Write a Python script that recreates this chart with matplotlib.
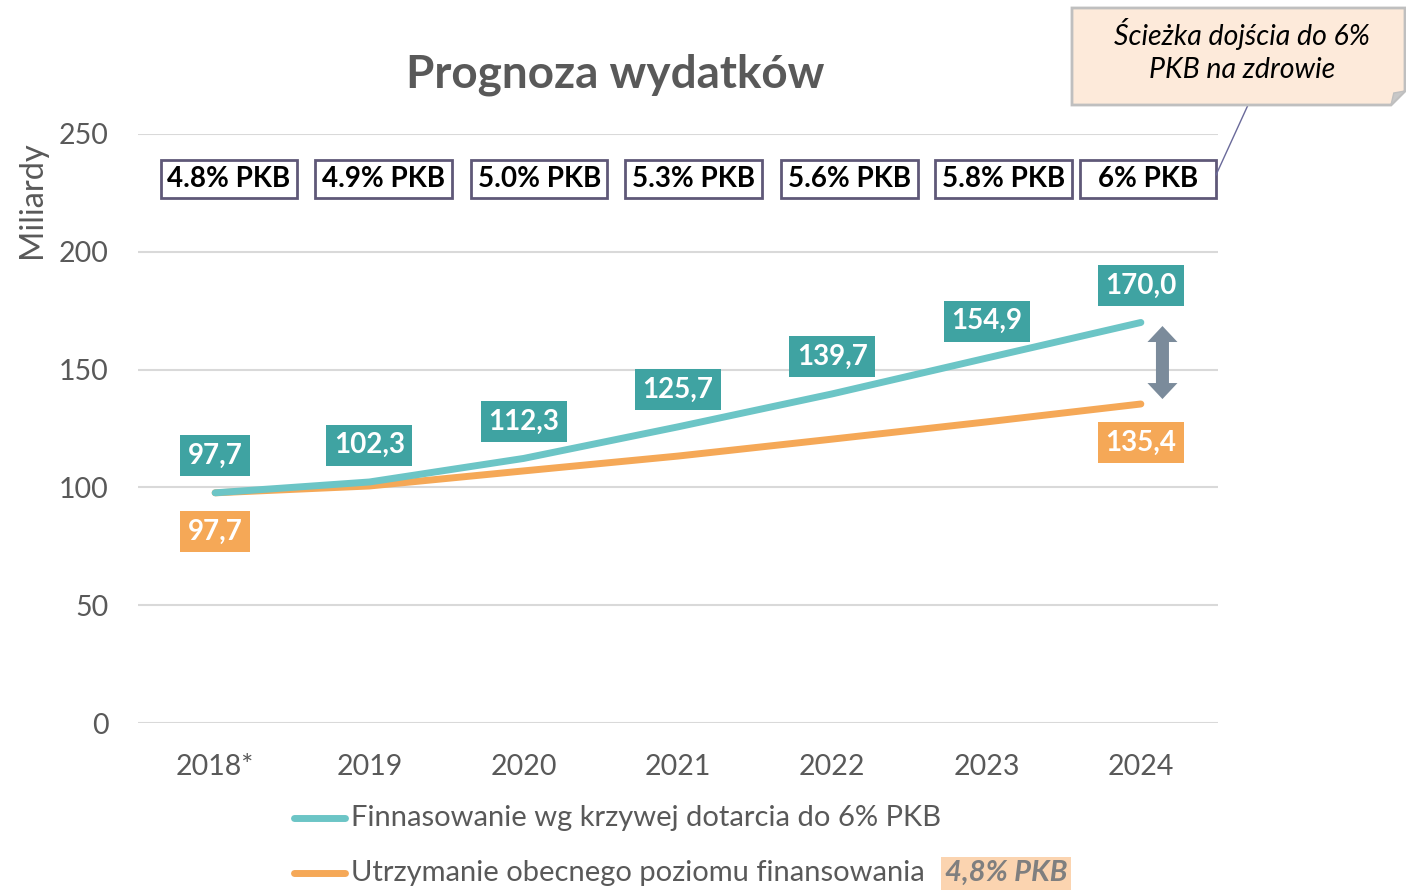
import matplotlib
matplotlib.use("Agg")
import matplotlib.pyplot as plt
from matplotlib.patches import Polygon, Rectangle
from matplotlib.lines import Line2D

years = ["2018*", "2019", "2020", "2021", "2022", "2023", "2024"]
path_6pct = [97.7, 102.3, 112.3, 125.7, 139.7, 154.9, 170.0]
current_48 = [97.7, 100.6, 107.0, 113.3, 120.5, 127.8, 135.4]
path_labels = ["97,7", "102,3", "112,3", "125,7", "139,7", "154,9", "170,0"]
current_labels = {0: "97,7", 6: "135,4"}
pkb_labels = ["4.8% PKB", "4.9% PKB", "5.0% PKB", "5.3% PKB", "5.6% PKB", "5.8% PKB", "6% PKB"]

FONT = ["Lato", "DejaVu Sans"]
plt.rcParams["font.family"] = FONT
GRAY = "#595959"
TEAL_LINE = "#6CC5C6"
TEAL_BOX = "#3FA3A2"
ORANGE = "#F5A857"

W, H = 1406, 891
fig = plt.figure(figsize=(W/100, H/100), dpi=100)
ax = fig.add_axes([138/W, 1-723/H, (1218-138)/W, (723-134)/H])
x = list(range(len(years)))
ax.set_xlim(-0.5, len(years)-0.5)
ax.set_ylim(0, 250)
ax.set_yticks([0, 50, 100, 150, 200, 250])
ax.grid(axis="y", color="#D9D9D9", lw=1.5)
ax.set_axisbelow(True)
for s in ax.spines.values():
    s.set_visible(False)
ax.tick_params(length=0, labelsize=20.5, colors=GRAY)
ax.tick_params(axis="x", pad=22)
ax.tick_params(axis="y", pad=21)
ax.set_xticks(x)
ax.set_xticklabels(years)
ax.set_ylabel("Miliardy", fontsize=23.5, color=GRAY)
ax.yaxis.set_label_coords(-0.084, 0.888)

ax.plot(x, current_48, color=ORANGE, lw=5, solid_capstyle="round", zorder=3)
ax.plot(x, path_6pct, color=TEAL_LINE, lw=5, solid_capstyle="round", zorder=3)

for i, (v, lab) in enumerate(zip(path_6pct, path_labels)):
    ax.annotate(lab, (i, v), xytext=(0, 26.6), textcoords="offset points",
                ha="center", va="center", fontsize=20, fontweight="bold", color="white",
                bbox=dict(boxstyle="square,pad=0.27", fc=TEAL_BOX, ec="none"), zorder=5)
for i, lab in current_labels.items():
    ax.annotate(lab, (i, current_48[i]), xytext=(0, -28), textcoords="offset points",
                ha="center", va="center", fontsize=20, fontweight="bold", color="white",
                bbox=dict(boxstyle="square,pad=0.27", fc=ORANGE, ec="none"), zorder=5)

# PKB share boxes: fixed-size frames above each year
pkb_x = [0.09, 0.09, 0.1, 0.1, 0.11, 0.11, 0.045]
box_w, box_h, box_y = 0.885, 16.1, 230.9
for i, lab in enumerate(pkb_labels):
    cxd = i + pkb_x[i]
    ax.add_patch(Rectangle((cxd - box_w/2, box_y - box_h/2), box_w, box_h, fc="white",
                           ec="#5F5878", lw=2, zorder=6, clip_on=False))
    ax.text(cxd, box_y, lab, ha="center", va="center", fontsize=20, fontweight="bold",
            color="black", zorder=7)

# double-headed arrow between the two 2024 values (built in pixel space)
cx, ytop = ax.transData.transform((6.14, 168.5))
_, ybot = ax.transData.transform((6.14, 137.5))
hw, sw, hl = 15, 6.5, 16
pts = [(cx, ytop), (cx + hw, ytop - hl), (cx + sw, ytop - hl), (cx + sw, ybot + hl), (cx + hw, ybot + hl),
       (cx, ybot), (cx - hw, ybot + hl), (cx - sw, ybot + hl), (cx - sw, ytop - hl), (cx - hw, ytop - hl)]
fig.add_artist(Polygon(pts, closed=True, transform=None, fc="#7B8B9B", ec="none", zorder=4))

fig.text(615/W, 1-75/H, "Prognoza wydatków", ha="center", va="center", fontsize=33,
         fontweight="bold", color=GRAY)

bx0, bx1, by0, by1 = 1072/W, 1405/W, 1-105/H, 1-8/H
fold = 14/W
fig.add_artist(Polygon([(bx0, by0), (bx0, by1), (bx1, by1), (bx1, by0 + 14/H), (bx1 - fold, by0)],
                       closed=True, transform=fig.transFigure, fc="#FDEADA", ec="#BFBFBF", lw=2, zorder=7))
fig.add_artist(Polygon([(bx1, by0 + 14/H), (bx1 - fold, by0), (bx1 - fold*0.8, by0 + 12/H)],
                       closed=True, transform=fig.transFigure, fc="#C8C8C8", ec="#BFBFBF", lw=1, zorder=8))
fig.text(1242/W, 1-50.5/H, "Ścieżka dojścia do 6%\nPKB na zdrowie", ha="center", va="center",
         fontsize=20.5, style="italic", color="black", linespacing=1.38, zorder=9)
fig.add_artist(Line2D([1248/W, 1216/W], [1-105/H, 1-175/H], transform=fig.transFigure,
                      color="#6A6A9A", lw=1))

texts = []
for yy, col, txt in [(818, TEAL_LINE, "Finnasowanie wg krzywej dotarcia do 6% PKB"),
                     (873, ORANGE, "Utrzymanie obecnego poziomu finansowania")]:
    fig.add_artist(Line2D([294/W, 345/W], [1-yy/H, 1-yy/H], transform=fig.transFigure,
                          color=col, lw=5, solid_capstyle="round"))
    texts.append(fig.text(351/W, 1-yy/H, txt, ha="left", va="center", fontsize=21, color=GRAY))

fig.canvas.draw()
bb = texts[1].get_window_extent()
fig.text((bb.x1 + 20)/W, 1-873/H, "4,8% PKB", ha="left", va="center", fontsize=21, color="#7F7F7F",
         fontweight="bold", style="italic",
         bbox=dict(boxstyle="square,pad=0.12", fc="#FBD4B0", ec="none"))

fig.savefig("out.png", dpi=100)
